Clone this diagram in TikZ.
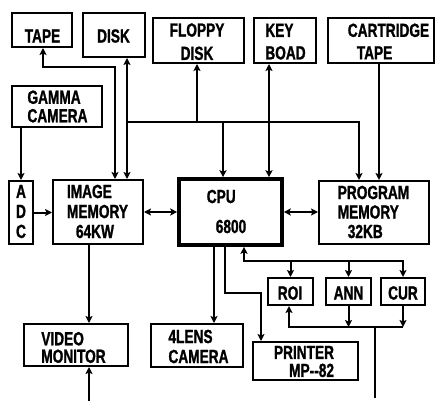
\documentclass[tikz,border=0pt]{standalone}
\usepackage{fontspec}
\newfontfamily\lblfont{Liberation Sans}[FakeStretch=0.72,FakeBold=1.2]
\usetikzlibrary{arrows.meta}
\tikzset{
  >={Stealth[length=7pt,width=7pt,inset=1.5pt]},
  box/.style={draw, line width=2pt, rectangle, inner sep=0pt},
  thickbox/.style={box, line width=3.6pt},
  lbl/.style={inner sep=0pt, align=center, font={\lblfont\bfseries\fontsize{19}{20}\selectfont}},
  pitch/.style={font={\lblfont\bfseries\fontsize{19}{#1}\selectfont}},
  wire/.style={line width=2pt},
}
\begin{document}
\begin{tikzpicture}[x=1pt,y=-1pt]
\useasboundingbox (0,0) rectangle (444,401);
% boxes
\node[box, minimum width=60pt,  minimum height=34pt] (tape)     at (42,30)    {};
\node[box, minimum width=62pt,  minimum height=44pt] (disk)     at (114,35)   {};
\node[box, minimum width=91pt,  minimum height=45pt] (floppy)   at (198.5,40.5) {};
\node[box, minimum width=62pt,  minimum height=45pt] (keyboad)  at (285,40.5) {};
\node[box, minimum width=106pt, minimum height=45pt] (cart)     at (381,40.5) {};
\node[box, minimum width=90pt,  minimum height=41pt] (gamma)    at (57,106.5) {};
\node[box, minimum width=24pt,  minimum height=63pt] (adc)      at (21,212.5) {};
\node[box, minimum width=90pt,  minimum height=64pt] (imgmem)   at (98,212)   {};
\node[thickbox, minimum width=103pt, minimum height=66pt] (cpu) at (230.5,212) {};
\node[box, minimum width=110pt, minimum height=63pt] (progmem)  at (374,212.5) {};
\node[box, minimum width=104pt, minimum height=42pt] (video)    at (76,345)   {};
\node[box, minimum width=92pt,  minimum height=43pt] (lens)     at (197,345.5) {};
\node[box, minimum width=105pt, minimum height=38pt] (printer)  at (305.5,361) {};
\node[box, minimum width=45pt,  minimum height=27pt] (roi)      at (290.5,291.5) {};
\node[box, minimum width=45pt,  minimum height=27pt] (ann)      at (348.5,291.5) {};
\node[box, minimum width=44pt,  minimum height=27pt] (cur)      at (403,291.5) {};
% texts
\node[lbl] (tapeT) at (42.5,36) {TAPE};
\node[lbl] (diskT) at (113.5,36) {DISK};
\node[lbl, pitch=23.3] (floppyT) at (197,41.7) {FLOPPY\\DISK};
\node[lbl, pitch=22.5, align=left] (keyT) at (285.5,41.7) {KEY\\BOAD};
\node[lbl, pitch=22.5, align=left] (cartT) at (388.5,41.5) {CARTRIDGE\\\hspace*{9pt}TAPE};
\node[lbl, pitch=18.5, align=left] (gammaT) at (57.5,106.5) {GAMMA\\CAMERA};
\node[lbl, pitch=20] (adcT) at (21,211.5) {A\\D\\C};
\node[lbl, pitch=20, align=left] (imgT) at (97.5,211.5) {IMAGE\\MEMORY\\\hspace*{9pt}64KW};
\node[lbl, pitch=30, align=left] (cpuT) at (226.5,211.5) {CPU\\\hspace*{9pt}6800};
\node[lbl, pitch=19.5, align=left] (progT) at (373.5,212) {PROGRAM\\MEMORY\\\hspace*{10pt}32KB};
\node[lbl, pitch=17.5, align=left] (videoT) at (73.5,347.5) {VIDEO\\MONITOR};
\node[lbl, pitch=20, align=left] (lensT) at (198.5,346.5) {4LENS\\CAMERA};
\node[lbl, pitch=18, align=right] (printT) at (304,361.5) {PRINTER\\MP-{}-82};
\node[lbl] (roiT) at (290,293) {ROI};
\node[lbl] (annT) at (348.5,293) {ANN};
\node[lbl] (curT) at (403,293) {CUR};
% free ends
\coordinate (vidin) at (89,401);
\coordinate (busend) at (375,398);
% connectors
\draw[wire,<->] (tape.south -| 43,0) |- (115,67) -- (imgmem.north -| 115,0);
\draw[wire,<->] (disk.south -| 127,0) -- (imgmem.north -| 127,0);
\draw[wire,->] (127,122) -- (359,122) -- (progmem.north -| 359,0);
\draw[wire,->] (197,122) -- (floppy.south -| 197,0);
\draw[wire,->] (223,122) -- (cpu.north -| 223,0);
\draw[wire,<->] (keyboad.south -| 269,0) -- (cpu.north -| 269,0);
\draw[wire,->] (cart.south -| 379,0) -- (progmem.north -| 379,0);
\draw[wire,->] (gamma.south -| adc.north) -- (adc.north);
\draw[wire,->] (adc.east) -- (adc.east -| imgmem.west);
\draw[wire,<->] (imgmem.east) -- (imgmem.east -| cpu.west);
\draw[wire,<->] (cpu.east) -- (cpu.east -| progmem.west);
\draw[wire,->] (imgmem.south -| 89,0) -- (video.north -| 89,0);
\draw[wire,->] (vidin) -- (video.south -| vidin);
\draw[wire,->] (cpu.south -| 214,0) -- (lens.north -| 214,0);
\draw[wire,->] (cpu.south -| 225,0) |- (261,293) -- (printer.north -| 261,0);
\draw[wire,<->] (cpu.south -| 244,0) |- (cur.north |- 0,261) -- (cur.north);
\draw[wire,->] (roi.north |- 0,261) -- (roi.north);
\draw[wire,->] (ann.north |- 0,261) -- (ann.north);
\draw[wire,<-] (roi.south -| 289,0) |- (cur.south |- 0,327);
\draw[wire,->] (ann.south) -- (ann.south |- 0,327);
\draw[wire,->] (cur.south) -- (cur.south |- 0,327);
\draw[wire] (busend |- 0,327) -- (busend);
\end{tikzpicture}
\end{document}
